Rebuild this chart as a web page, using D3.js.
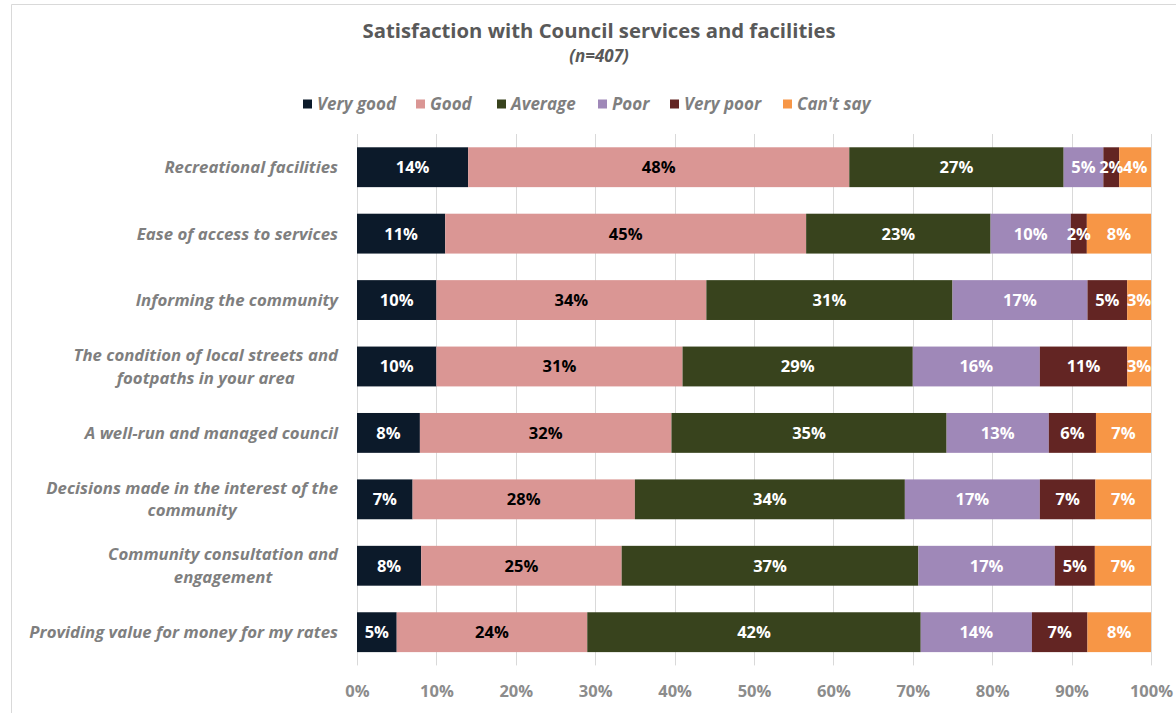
<!DOCTYPE html>
<html>
<head>
<meta charset="utf-8">
<script src="https://cdn.jsdelivr.net/npm/d3@7"></script>
<style>
  html, body { margin: 0; padding: 0; background: #fff; }
  svg { display: block; font-family: "Open Sans", Lato, sans-serif; }
</style>
</head>
<body>
<svg id="chart" width="1176" height="713"></svg>
<script>
// Survey items (top to bottom); "\n" marks a line break in the axis label
const categories = [
  "Recreational facilities",
  "Ease of access to services",
  "Informing the community",
  "The condition of local streets and\nfootpaths in your area",
  "A well-run and managed council",
  "Decisions made in the interest of the\ncommunity",
  "Community consultation and\nengagement",
  "Providing value for money for my rates"
];

const seriesNames = ["Very good", "Good", "Average", "Poor", "Very poor", "Can't say"];
const seriesColors = ["#0c1a2a", "#da9694", "#38431d", "#9f88b8", "#632523", "#f79646"];
const labelColors = ["#ffffff", "#000000", "#ffffff", "#ffffff", "#ffffff", "#ffffff"];

// Percent of respondents per rating, one array per rating, in category order
const veryGood = [14, 11, 10, 10, 8, 7, 8, 5];
const good     = [48, 45, 34, 31, 32, 28, 25, 24];
const average  = [27, 23, 31, 29, 35, 34, 37, 42];
const poor     = [5, 10, 17, 16, 13, 17, 17, 14];
const veryPoor = [2, 2, 5, 11, 6, 7, 5, 7];
const cantSay  = [4, 8, 3, 3, 7, 7, 7, 8];

const xTicks = [0, 0.1, 0.2, 0.3, 0.4, 0.5, 0.6, 0.7, 0.8, 0.9, 1.0];

const title = "Satisfaction with Council services and facilities";
const subtitle = "(n=407)";

// Build row objects for d3.stack
const seriesValues = [veryGood, good, average, poor, veryPoor, cantSay];
const rows = categories.map((c, i) => {
  const r = { category: c };
  seriesNames.forEach((s, k) => { r[s] = seriesValues[k][i]; });
  return r;
});

const stacked = d3.stack()
  .keys(seriesNames)
  .offset(d3.stackOffsetExpand)(rows);

const svg = d3.select("#chart");
const W = 1176, H = 713;
const plot = { left: 357, right: 1151, top: 134, bottom: 665.4 };

const x = d3.scaleLinear().domain([0, 1]).range([plot.left, plot.right]);
const y = d3.scaleBand()
  .domain(categories)
  .range([plot.top, plot.bottom])
  .paddingInner(0.4)
  .paddingOuter(0.2);

// Chart frame (top and left edges visible)
svg.append("line").attr("x1", 11.5).attr("x2", W).attr("y1", 4.5).attr("y2", 4.5)
  .attr("stroke", "#d9d9d9").attr("stroke-width", 1);
svg.append("line").attr("x1", 11.5).attr("x2", 11.5).attr("y1", 4.5).attr("y2", H)
  .attr("stroke", "#d9d9d9").attr("stroke-width", 1);

// Title
svg.append("text")
  .attr("x", 599).attr("y", 38)
  .attr("text-anchor", "middle")
  .attr("font-size", 20.3).attr("font-weight", 700)
  .attr("fill", "#595959")
  .text(title);
svg.append("text")
  .attr("x", 599).attr("y", 62)
  .attr("text-anchor", "middle")
  .attr("font-size", 17).attr("font-weight", 700).attr("font-style", "italic")
  .attr("fill", "#595959")
  .text(subtitle);

// Legend
const legendX = [303, 416, 497, 598, 670, 783];
const legend = svg.append("g");
seriesNames.forEach((s, k) => {
  const g = legend.append("g").attr("transform", `translate(${legendX[k]},104)`);
  g.append("rect").attr("x", 0).attr("y", -4.5).attr("width", 9).attr("height", 9)
    .attr("fill", seriesColors[k]);
  g.append("text").attr("x", 14).attr("y", 0).attr("dy", "0.35em")
    .attr("font-size", 17).attr("font-weight", 700).attr("font-style", "italic")
    .attr("fill", "#7f7f7f")
    .text(s);
});

// Vertical gridlines
svg.append("g")
  .selectAll("line")
  .data(xTicks)
  .join("line")
  .attr("x1", d => Math.round(x(d)) + 0.5)
  .attr("x2", d => Math.round(x(d)) + 0.5)
  .attr("y1", plot.top)
  .attr("y2", plot.bottom)
  .attr("stroke", "#d9d9d9")
  .attr("stroke-width", 1);

// X axis tick labels
const xAxis = d3.axisBottom(x)
  .tickValues(xTicks)
  .tickFormat(d3.format(".0%"))
  .tickSize(0)
  .tickPadding(0);
const xg = svg.append("g").attr("transform", `translate(0,${plot.bottom})`).call(xAxis);
xg.select(".domain").remove();
xg.selectAll("text")
  .attr("y", 32)
  .attr("dy", "0")
  .attr("font-family", "'Open Sans', Lato, sans-serif")
  .attr("font-size", 16.5).attr("font-weight", 700)
  .attr("fill", "#8c8c8c");

// Bars
const layers = svg.append("g")
  .selectAll("g")
  .data(stacked)
  .join("g")
  .attr("fill", (d, k) => seriesColors[k]);

layers.selectAll("rect")
  .data(d => d.map(p => ({ p, cat: p.data.category })))
  .join("rect")
  .attr("x", d => x(d.p[0]))
  .attr("width", d => x(d.p[1]) - x(d.p[0]))
  .attr("y", d => y(d.cat))
  .attr("height", y.bandwidth());

// Value labels inside segments
stacked.forEach((layer, k) => {
  svg.append("g")
    .selectAll("text")
    .data(layer)
    .join("text")
    .attr("x", d => (x(d[0]) + x(d[1])) / 2)
    .attr("y", d => y(d.data.category) + y.bandwidth() / 2)
    .attr("dy", "0.36em")
    .attr("text-anchor", "middle")
    .attr("font-size", 16.5).attr("font-weight", 700)
    .attr("fill", labelColors[k])
    .text(d => d.data[layer.key] + "%");
});

// Category labels: block right-aligned, lines centred within the block
const labelRight = 338;
categories.forEach(c => {
  const lines = c.split("\n");
  const g = svg.append("g");
  const t = g.append("text")
    .attr("font-size", 16.8).attr("font-weight", 700).attr("font-style", "italic")
    .attr("fill", "#7f7f7f")
    .attr("text-anchor", "middle");
  const cy = y(c) + y.bandwidth() / 2;
  const lh = 22.5;
  const spans = lines.map((ln, i) =>
    t.append("tspan")
      .attr("y", cy + (i - (lines.length - 1) / 2) * lh)
      .attr("dy", "0.35em")
      .text(ln));
  const maxW = d3.max(spans, s => s.node().getComputedTextLength());
  spans.forEach(s => s.attr("x", labelRight - maxW / 2));
});
</script>
</body>
</html>
